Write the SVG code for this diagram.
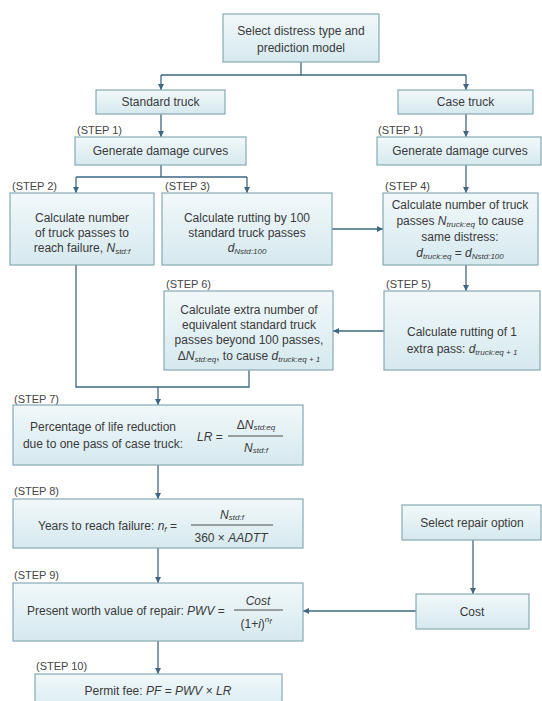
<svg xmlns="http://www.w3.org/2000/svg" width="542" height="701" viewBox="0 0 542 701">
<defs>
<linearGradient id="bg" x1="0" y1="0" x2="0" y2="1">
<stop offset="0" stop-color="#f1f8fa"/>
<stop offset="1" stop-color="#d6e9ef"/>
</linearGradient>
<marker id="ah" markerUnits="userSpaceOnUse" markerWidth="6" markerHeight="6" refX="6" refY="3" orient="auto">
<path d="M0,0 L6,3 L0,6 z" fill="#3f6782"/>
</marker>
<style>
.box{fill:url(#bg);stroke:#86aab5;stroke-width:1.2}
text{font-family:"Liberation Sans",Arial,sans-serif;font-size:12px;fill:#3a3a3a}
.c{text-anchor:middle}
.lbl{font-size:11px;fill:#444}
.i{font-style:italic}
.s{font-size:8px;font-style:italic}
.con{fill:none;stroke:#3f6782;stroke-width:1.3}
.ar{marker-end:url(#ah)}
.fl{stroke:#3a3a3a;stroke-width:0.9}
</style>
</defs>
<rect width="542" height="701" fill="#ffffff"/>

<g id="connectors">
<path class="con" d="M301,62 V75 M161,75 H466"/>
<path class="con ar" d="M161,75 V90"/>
<path class="con ar" d="M466,75 V90"/>
<path class="con ar" d="M161,114 V137"/>
<path class="con ar" d="M466,114 V137"/>
<path class="con" d="M161,165 V177 M76,177 H247"/>
<path class="con ar" d="M76,177 V193"/>
<path class="con ar" d="M247,177 V193"/>
<path class="con ar" d="M466,165 V193"/>
<path class="con ar" d="M332,229 H383"/>
<path class="con ar" d="M466,265 V291"/>
<path class="con ar" d="M384,331 H333"/>
<path class="con" d="M76,265 V387 H249 V370"/>
<path class="con ar" d="M158,387 V405"/>
<path class="con ar" d="M158,465 V499"/>
<path class="con ar" d="M158,548 V583"/>
<path class="con ar" d="M158,641 V674"/>
<path class="con ar" d="M473,540 V594"/>
<path class="con ar" d="M416,611 H303"/>
</g>

<g id="select-distress">
<rect class="box" x="223" y="14" width="156" height="48"/>
<text class="c" x="301" y="35">Select distress type and</text>
<text class="c" x="301" y="52">prediction model</text>
</g>

<g id="standard-truck">
<rect class="box" x="96" y="90" width="129" height="24"/>
<text class="c" x="160.5" y="106">Standard truck</text>
</g>

<g id="case-truck">
<rect class="box" x="398" y="90" width="135" height="24"/>
<text class="c" x="465.5" y="106">Case truck</text>
</g>

<g id="step1-standard">
<text class="lbl" x="77" y="134">(STEP 1)</text>
<rect class="box" x="75" y="137" width="171" height="28"/>
<text class="c" x="160.5" y="155">Generate damage curves</text>
</g>

<g id="step1-case">
<text class="lbl" x="378" y="134">(STEP 1)</text>
<rect class="box" x="377" y="137" width="164" height="28"/>
<text class="c" x="460" y="155">Generate damage curves</text>
</g>

<g id="step2">
<text class="lbl" x="12" y="190">(STEP 2)</text>
<rect class="box" x="10" y="193" width="144" height="72"/>
<text class="c" x="82" y="222">Calculate number</text>
<text class="c" x="82" y="237">of truck passes to</text>
<text class="c" x="82" y="252">reach failure, <tspan class="i">N</tspan><tspan class="s" dy="2">std:f</tspan></text>
</g>

<g id="step3">
<text class="lbl" x="165" y="190">(STEP 3)</text>
<rect class="box" x="162" y="193" width="170" height="72"/>
<text class="c" x="247" y="222">Calculate rutting by 100</text>
<text class="c" x="247" y="237">standard truck passes</text>
<text class="c" x="247" y="252"><tspan class="i">d</tspan><tspan class="s" dy="2">Nstd:100</tspan></text>
</g>

<g id="step4">
<text class="lbl" x="385" y="190">(STEP 4)</text>
<rect class="box" x="383" y="193" width="155" height="72"/>
<text class="c" x="460" y="209">Calculate number of truck</text>
<text class="c" x="460" y="225">passes <tspan class="i">N</tspan><tspan class="s" dy="2">truck:eq</tspan><tspan dy="-2"> to cause</tspan></text>
<text class="c" x="460" y="241">same distress:</text>
<text class="c" x="460" y="257"><tspan class="i">d</tspan><tspan class="s" dy="2">truck:eq</tspan><tspan dy="-2"> = </tspan><tspan class="i">d</tspan><tspan class="s" dy="2">Nstd:100</tspan></text>
</g>

<g id="step5">
<text class="lbl" x="386" y="288">(STEP 5)</text>
<rect class="box" x="384" y="291" width="156" height="79"/>
<text class="c" x="462" y="336">Calculate rutting of 1</text>
<text class="c" x="462" y="353">extra pass: <tspan class="i">d</tspan><tspan class="s" dy="2">truck:eq + 1</tspan></text>
</g>

<g id="step6">
<text class="lbl" x="166" y="288">(STEP 6)</text>
<rect class="box" x="164" y="291" width="169" height="79"/>
<text class="c" x="249" y="314">Calculate extra number of</text>
<text class="c" x="249" y="329">equivalent standard truck</text>
<text class="c" x="249" y="344">passes beyond 100 passes,</text>
<text class="c" x="249" y="360">Δ<tspan class="i">N</tspan><tspan class="s" dy="2">std:eq</tspan><tspan dy="-2">, to cause </tspan><tspan class="i">d</tspan><tspan class="s" dy="2">truck:eq + 1</tspan></text>
</g>

<g id="step7">
<text class="lbl" x="14" y="403">(STEP 7)</text>
<rect class="box" x="13" y="405" width="290" height="60"/>
<text class="c" x="103" y="431">Percentage of life reduction</text>
<text class="c" x="103" y="448">due to one pass of case truck:</text>
<text x="197" y="441"><tspan class="i">LR</tspan> =</text>
<line class="fl" x1="228" y1="436" x2="283" y2="436"/>
<text class="c" x="256" y="429">Δ<tspan class="i">N</tspan><tspan class="s" dy="1">std:eq</tspan></text>
<text class="c" x="256" y="452"><tspan class="i">N</tspan><tspan class="s" dy="1">std:f</tspan></text>
</g>

<g id="step8">
<text class="lbl" x="14" y="495">(STEP 8)</text>
<rect class="box" x="13" y="499" width="290" height="49"/>
<text x="38" y="530">Years to reach failure:  <tspan class="i">n</tspan><tspan class="s" dy="2">f</tspan><tspan dy="-2"> =</tspan></text>
<line class="fl" x1="191" y1="525" x2="273" y2="525"/>
<text class="c" x="232" y="519"><tspan class="i">N</tspan><tspan class="s" dy="1">std:f</tspan></text>
<text class="c" x="231" y="542">360 × <tspan class="i">AADTT</tspan></text>
</g>

<g id="step9">
<text class="lbl" x="14" y="579">(STEP 9)</text>
<rect class="box" x="13" y="583" width="290" height="58"/>
<text x="27" y="615">Present worth value of repair:  <tspan class="i">PWV</tspan> =</text>
<line class="fl" x1="234" y1="610" x2="283" y2="610"/>
<text class="c i" x="258" y="605">Cost</text>
<text class="c" x="256" y="628">(1+<tspan class="i">i</tspan>)<tspan class="s" dy="-6">n</tspan><tspan class="s" font-size="6" dy="2">f</tspan></text>
</g>

<g id="step10">
<text class="lbl" x="36" y="670">(STEP 10)</text>
<rect class="box" x="35" y="674" width="247" height="40"/>
<text class="c" x="158" y="695">Permit fee:  <tspan class="i">PF</tspan> = <tspan class="i">PWV</tspan> × <tspan class="i">LR</tspan></text>
</g>

<g id="select-repair">
<rect class="box" x="402" y="505" width="139" height="35"/>
<text class="c" x="472" y="527">Select repair option</text>
</g>

<g id="cost">
<rect class="box" x="416" y="594" width="113" height="35"/>
<text class="c" x="472" y="616">Cost</text>
</g>
</svg>
